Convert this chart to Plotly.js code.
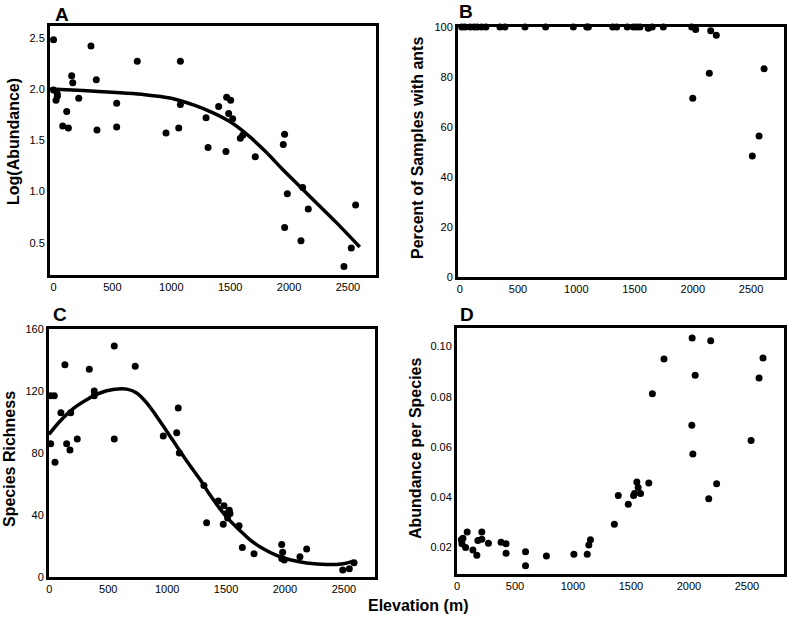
<!DOCTYPE html>
<html>
<head>
<meta charset="utf-8">
<script src="https://cdn.plot.ly/plotly-3.0.1.min.js"></script>
<style>html,body{margin:0;padding:0;background:#fff;}#chart{width:790px;height:617px;}</style>
</head>
<body>
<div id="chart"></div>
<script>
// ---------- Panel A: Log(Abundance) ----------
const elevA = [0, 0, 32, 32, 21, 78, 112, 126, 154, 163, 214, 318, 363, 369, 536, 536, 711, 955, 1063, 1077, 1077, 1295, 1312, 1402, 1470, 1504, 1487, 1521, 1464, 1586, 1606, 1713, 1962, 1951, 1985, 1962, 2115, 2163, 2101, 2565, 2528, 2466];
const logAbundance = [2.48, 1.99, 1.95, 1.93, 1.89, 1.64, 1.78, 1.62, 2.13, 2.06, 1.91, 2.42, 2.09, 1.60, 1.86, 1.63, 2.27, 1.57, 1.62, 2.27, 1.85, 1.72, 1.43, 1.83, 1.92, 1.89, 1.76, 1.71, 1.39, 1.52, 1.55, 1.34, 1.56, 1.46, 0.98, 0.65, 1.04, 0.83, 0.52, 0.87, 0.45, 0.27];
const fitA_x = [-30, 250, 500, 750, 1000, 1200, 1350, 1500, 1650, 1800, 1950, 2100, 2250, 2400, 2600];
const fitA_y = [2.00, 1.985, 1.968, 1.948, 1.91, 1.84, 1.77, 1.68, 1.55, 1.39, 1.21, 1.04, 0.87, 0.70, 0.46];

// ---------- Panel B: Percent of samples with ants ----------
const elevB = [17, 45, 88, 122, 150, 188, 225, 345, 388, 560, 737, 975, 1090, 1104, 1313, 1347, 1438, 1490, 1518, 1547, 1618, 1652, 1747, 1991, 2025, 2154, 2202, 2000, 2142, 2612, 2569, 2511];
const pctSamples = [100, 100, 100, 100, 100, 100, 100, 100, 100, 100, 100, 100, 100, 100, 100, 100, 100, 100, 100, 100, 99.5, 100, 100, 100, 99, 98.5, 96.7, 71.5, 81.5, 83.3, 56.4, 48.4];

// ---------- Panel C: Species richness ----------
const elevC = [11, 42, 11, 48, 98, 132, 147, 175, 181, 237, 339, 381, 381, 551, 551, 729, 967, 1081, 1094, 1103, 1312, 1335, 1434, 1482, 1476, 1505, 1527, 1533, 1513, 1610, 1638, 1737, 1972, 1980, 1994, 1972, 2127, 2184, 2490, 2546, 2586];
const richness = [117, 117, 86, 74, 106, 137, 86, 82, 106, 89, 134, 120, 117, 149, 89, 136, 91, 93, 109, 80, 59, 35, 49, 46, 34, 41, 43, 41, 38, 33, 19, 15, 21, 16, 11, 12, 13, 18, 4.5, 5.4, 9.2];
const fitC_x = [-3, 90, 203, 317, 430, 542, 656, 741, 826, 939, 1052, 1166, 1278, 1363, 1448, 1533, 1618, 1703, 1816, 1929, 2042, 2184, 2353, 2494, 2579];
const fitC_y = [92, 100.5, 108.7, 114.4, 118.7, 120.9, 121.2, 118.7, 112.3, 100.5, 87.7, 74.9, 63, 53, 44, 36.4, 30, 24, 18.2, 13.9, 11.1, 9, 8, 8.6, 10.3];

// ---------- Panel D: Abundance per species ----------
const elevD = [37, 43, 51, 88, 74, 137, 171, 180, 214, 214, 271, 380, 423, 423, 591, 591, 771, 1008, 1123, 1137, 1151, 1357, 1391, 1477, 1523, 1531, 1551, 1562, 1583, 1654, 1685, 1785, 2028, 2054, 2025, 2034, 2188, 2171, 2239, 2536, 2605, 2639];
const abundPerSpecies = [0.0231, 0.0215, 0.0237, 0.0262, 0.0200, 0.0191, 0.0170, 0.0228, 0.0233, 0.0262, 0.0217, 0.0221, 0.0215, 0.0178, 0.0184, 0.0128, 0.0167, 0.0174, 0.0174, 0.0210, 0.0231, 0.0293, 0.0407, 0.0373, 0.0407, 0.0415, 0.0461, 0.0439, 0.0415, 0.0457, 0.0812, 0.0951, 0.1034, 0.0886, 0.0687, 0.0573, 0.1023, 0.0394, 0.0454, 0.0626, 0.0875, 0.0955];

// ---------- Labels ----------
const panelLetters = ["A", "B", "C", "D"];
const yTitles = ["Log(Abundance)", "Percent of Samples with ants", "Species Richness", "Abundance per Species"];
const xTitle = "Elevation (m)";
const elevTicks = [0, 500, 1000, 1500, 2000, 2500];
const ticksA = [0.5, 1.0, 1.5, 2.0, 2.5];
const ticksB = [0, 20, 40, 60, 80, 100];
const ticksC = [0, 40, 80, 120, 160];
const ticksD = [0.02, 0.04, 0.06, 0.08, 0.10];

// ---------- Layout helpers ----------
const W = 790, H = 617;
const xd = (a, b) => [a / W, b / W];
const yd = (top, bot) => [1 - bot / H, 1 - top / H];
const FONT = "Liberation Sans, Arial, Helvetica, sans-serif";
const tickfont = {family: FONT, size: 11, color: "#000"};

function ax(extra) {
  return Object.assign({
    showline: true, linecolor: "#000", linewidth: 3, mirror: true,
    showgrid: false, zeroline: false, ticks: "", tickfont: tickfont,
    fixedrange: true, tickmode: "array"
  }, extra);
}

const mk = {color: "#000", size: 7};
const ln = {color: "#000", width: 3.5, shape: "spline", smoothing: 1};

const traces = [
  {x: elevA, y: logAbundance, xaxis: "x", yaxis: "y", type: "scatter", mode: "markers", marker: mk, cliponaxis: false},
  {x: fitA_x, y: fitA_y, xaxis: "x", yaxis: "y", type: "scatter", mode: "lines", line: ln},
  {x: elevB, y: pctSamples, xaxis: "x2", yaxis: "y2", type: "scatter", mode: "markers", marker: mk, cliponaxis: false},
  {x: elevC, y: richness, xaxis: "x3", yaxis: "y3", type: "scatter", mode: "markers", marker: mk, cliponaxis: false},
  {x: fitC_x, y: fitC_y, xaxis: "x3", yaxis: "y3", type: "scatter", mode: "lines", line: ln},
  {x: elevD, y: abundPerSpecies, xaxis: "x4", yaxis: "y4", type: "scatter", mode: "markers", marker: mk, cliponaxis: false}
];

function ann(text, px, py, size, angle) {
  return {text: text, x: px / W, y: 1 - py / H, xref: "paper", yref: "paper",
    showarrow: false, xanchor: "center", yanchor: "middle", textangle: angle || 0,
    font: {family: FONT, size: size, color: "#000", weight: "bold"}};
}

const layout = {
  width: W, height: H,
  margin: {l: 0, r: 0, t: 0, b: 0},
  paper_bgcolor: "#fff", plot_bgcolor: "#fff",
  showlegend: false,
  xaxis:  ax({domain: xd(50, 376),  range: [-30, 2738], tickvals: elevTicks, anchor: "y"}),
  yaxis:  ax({domain: yd(26, 275),  range: [0.187, 2.614], tickvals: ticksA, tickformat: ".1f", anchor: "x"}),
  xaxis2: ax({domain: xd(458, 784), range: [-15, 2783], tickvals: elevTicks, anchor: "y2"}),
  yaxis2: ax({domain: yd(27, 277),  range: [0, 100], tickvals: ticksB, anchor: "x2"}),
  xaxis3: ax({domain: xd(49, 375),  range: [-3, 2764], tickvals: elevTicks, anchor: "y3"}),
  yaxis3: ax({domain: yd(329, 577), range: [0, 160], tickvals: ticksC, anchor: "x3"}),
  xaxis4: ax({domain: xd(457, 784), range: [0, 2820], tickvals: elevTicks, anchor: "y4"}),
  yaxis4: ax({domain: yd(328, 574), range: [0.0095, 0.1074], tickvals: ticksD, tickformat: ".2f", anchor: "x4"}),
  annotations: [
    ann(panelLetters[0], 62, 14, 19),
    ann(panelLetters[1], 466, 12, 19),
    ann(panelLetters[2], 60, 314, 19),
    ann(panelLetters[3], 467, 314, 19),
    ann(yTitles[0], 14, 142, 16, -90),
    ann(yTitles[1], 417, 148, 16, -90),
    ann(yTitles[2], 9, 459, 16, -90),
    ann(yTitles[3], 415, 449, 16, -90),
    ann(xTitle, 418, 605, 16)
  ]
};

Plotly.newPlot("chart", traces, layout, {staticPlot: true, displayModeBar: false});
</script>
</body>
</html>
